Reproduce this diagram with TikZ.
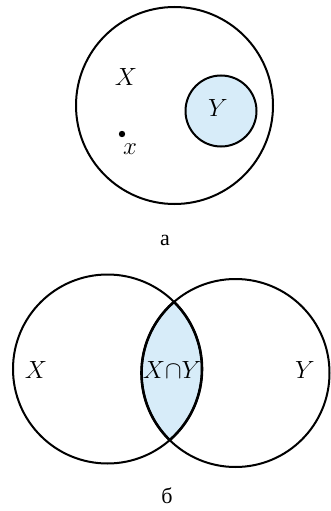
\documentclass[tikz,border=0pt]{standalone}
\usepackage{fontspec}
\newfontfamily\cyrfont{Liberation Serif}
\definecolor{setfill}{RGB}{215,236,249}

\begin{document}
\begin{tikzpicture}[x=1pt, y=-1pt,
    set/.style={line width=2pt},
    lens/.style={line width=2.6pt},
    lbl/.style={font=\fontsize{23}{25}\selectfont, inner sep=0pt},
    capt/.style={font=\cyrfont\fontsize{22}{24}\selectfont, inner sep=0pt},
]
\useasboundingbox (0,0) rectangle (330,511);

% === a: Y inside X ===
\fill[setfill] (221,111) circle (35.5pt);
\draw[set] (174.5,105.5) circle (98.5pt);
\draw[set] (221,111) circle (35.5pt);
\fill (122,134) circle (3.2pt);
\node[lbl] (labX) at (126,77) {$X$};
\node[lbl] (labY) at (218,108) {$Y$};
\node[lbl] (labx) at (130,149) {$x$};
\node[capt] (capa) at (165,240) {а};

% === b: intersection ===
\begin{scope}
  \clip (107.5,369) circle (94.5pt);
  \fill[setfill] (235.5,373) circle (94pt);
\end{scope}
\draw[set] (107.5,369) circle (94.5pt);
\draw[set] (235.5,373) circle (94pt);
% thicker lens border
\begin{scope}
  \clip (107.5,369) circle (94.5pt);
  \draw[lens] (235.5,373) circle (94pt);
\end{scope}
\begin{scope}
  \clip (235.5,373) circle (94pt);
  \draw[lens] (107.5,369) circle (94.5pt);
\end{scope}
\node[lbl] (labX2) at (36,370) {$X$};
\node[lbl] (labXY) at (172,370) {$X{\cap}Y$};
\node[lbl] (labY2) at (305,370) {$Y$};
\node[capt] (capb) at (167,496) {б};
\end{tikzpicture}
\end{document}
